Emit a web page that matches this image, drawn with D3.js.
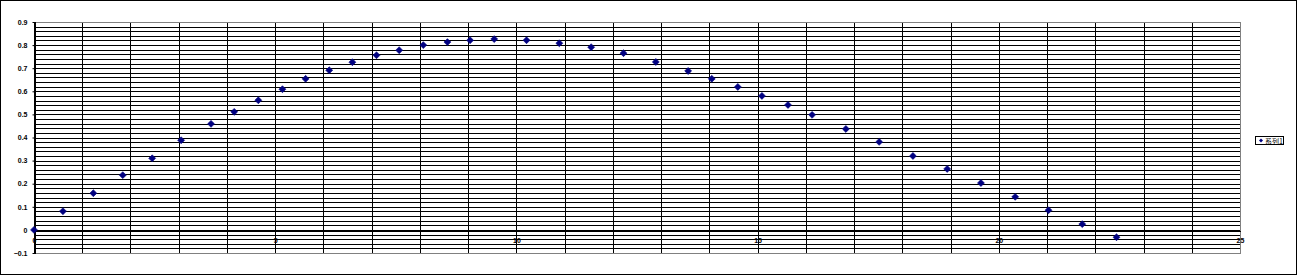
<!DOCTYPE html>
<html>
<head>
<meta charset="utf-8">
<script src="https://cdn.jsdelivr.net/npm/d3@7"></script>
<style>
	body { margin: 0; background: #fff; }
	svg { display: block; }
	text { font-family: 'Liberation Sans', Arial, sans-serif; font-size: 7px; font-weight: bold; fill: #000; }
</style>
</head>
<body>
<svg id="canvas"></svg>
<script>
// series values
const xValues = [0, 0.6, 1.23, 1.84, 2.45, 3.05, 3.67, 4.15, 4.65, 5.15, 5.63, 6.12, 6.6, 7.1, 7.57, 8.07, 8.57, 9.04, 9.54,
	10.21, 10.89, 11.55, 12.22, 12.89, 13.56, 14.05, 14.59, 15.09, 15.63, 16.13, 16.83, 17.52, 18.22, 18.93, 19.63,
	20.34, 21.03, 21.73, 22.44];
const yValues = [0, 0.081, 0.159, 0.237, 0.31, 0.388, 0.459, 0.511, 0.561, 0.609, 0.654, 0.691, 0.726, 0.756, 0.778, 0.8,
	0.813, 0.821, 0.826, 0.821, 0.808, 0.791, 0.765, 0.727, 0.688, 0.654, 0.619, 0.58, 0.541, 0.498, 0.437, 0.381,
	0.32, 0.264, 0.203, 0.143, 0.085, 0.025, -0.032];
const seriesName = '系列1';
const yTicks = [-0.1, 0, 0.1, 0.2, 0.3, 0.4, 0.5, 0.6, 0.7, 0.8, 0.9];
const xTicks = [0, 5, 10, 15, 20, 25];

const w = 1299;
const h = 276;
const plotLeft = 34, plotRight = 1240, plotTop = 22, plotBottom = 253;

const svg = d3.select('#canvas').attr('width', w).attr('height', h);

const xScale = d3.scaleLinear().domain([0, 25]).range([plotLeft, plotRight]);
const yScale = d3.scaleLinear().domain([-0.1, 0.9]).range([plotBottom, plotTop]);
const snap = (v) => Math.round(v) + 0.5;

// chart border
svg.append('rect')
	.attr('x', 0.5).attr('y', 0.5)
	.attr('width', 1296).attr('height', 274)
	.attr('fill', '#fff').attr('stroke', '#000');

// minor horizontal grid, every 0.02
const hGrid = d3.range(0, 51).map((i) => -0.1 + i * 0.02);
svg.append('g')
	.selectAll('line')
	.data(hGrid)
	.enter()
	.append('line')
	.attr('x1', plotLeft).attr('x2', plotRight)
	.attr('y1', (d) => snap(yScale(d))).attr('y2', (d) => snap(yScale(d)))
	.attr('stroke', '#000')
	.attr('shape-rendering', 'crispEdges');

// vertical grid, every 1
svg.append('g')
	.selectAll('line')
	.data(d3.range(0, 26))
	.enter()
	.append('line')
	.attr('x1', (d) => snap(xScale(d))).attr('x2', (d) => snap(xScale(d)))
	.attr('y1', plotTop).attr('y2', plotBottom)
	.attr('stroke', '#000')
	.attr('shape-rendering', 'crispEdges');

// grey plot border (top, right, bottom)
svg.append('path')
	.attr('d', `M${plotLeft},${snap(plotTop)}H${snap(plotRight)}V${snap(plotBottom)}H${plotLeft}`)
	.attr('fill', 'none')
	.attr('stroke', '#808080')
	.attr('shape-rendering', 'crispEdges');

// y axis
const yAxis = d3.axisLeft(yScale).tickValues(yTicks).tickSize(2).tickPadding(5)
	.tickFormat((d) => (Math.abs(d) < 1e-9 ? '0' : d3.format('.1f')(d)));
const gy = svg.append('g').attr('id', 'y-axis').attr('transform', `translate(${snap(plotLeft)},0)`).call(yAxis);
gy.select('.domain').attr('stroke', '#000').attr('shape-rendering', 'crispEdges');
gy.selectAll('.tick line').attr('stroke', '#000');
gy.selectAll('text').attr('font-size', null).attr('font-family', null);

// x axis crossing at y = 0
const xAxis = d3.axisBottom(xScale).tickValues(xTicks).tickSize(0).tickPadding(8).tickFormat(d3.format('d'));
const gx = svg.append('g').attr('id', 'x-axis').attr('transform', `translate(0,${snap(yScale(0))})`).call(xAxis);
gx.select('.domain').attr('stroke', '#000').attr('shape-rendering', 'crispEdges');
gx.selectAll('text').attr('font-size', null).attr('font-family', null);

// markers
const marker = d3.symbol().type(d3.symbolSquare).size(24);
svg.append('g')
	.selectAll('path')
	.data(xValues.map((x, i) => [x, yValues[i]]))
	.enter()
	.append('path')
	.attr('d', marker)
	.attr('transform', (d) => `translate(${xScale(d[0])},${yScale(d[1])}) rotate(45)`)
	.attr('fill', '#000080')
	.attr('stroke', '#000080')
	.attr('stroke-width', 0.6);

// legend
const legend = svg.append('g').attr('transform', 'translate(1255,136)');
legend.append('rect')
	.attr('x', 0.5).attr('y', 0.5).attr('width', 28).attr('height', 8)
	.attr('fill', '#fff').attr('stroke', '#000');
legend.append('path')
	.attr('d', d3.symbol().type(d3.symbolSquare).size(8))
	.attr('transform', 'translate(6,4.5) rotate(45)')
	.attr('fill', '#000080');
legend.append('text')
	.attr('x', 10).attr('y', 7.5)
	.style('font-family', "'Noto Sans CJK SC', sans-serif")
	.style('font-weight', 'normal')
	.style('font-size', '7px')
	.text(seriesName);
</script>
</body>
</html>
